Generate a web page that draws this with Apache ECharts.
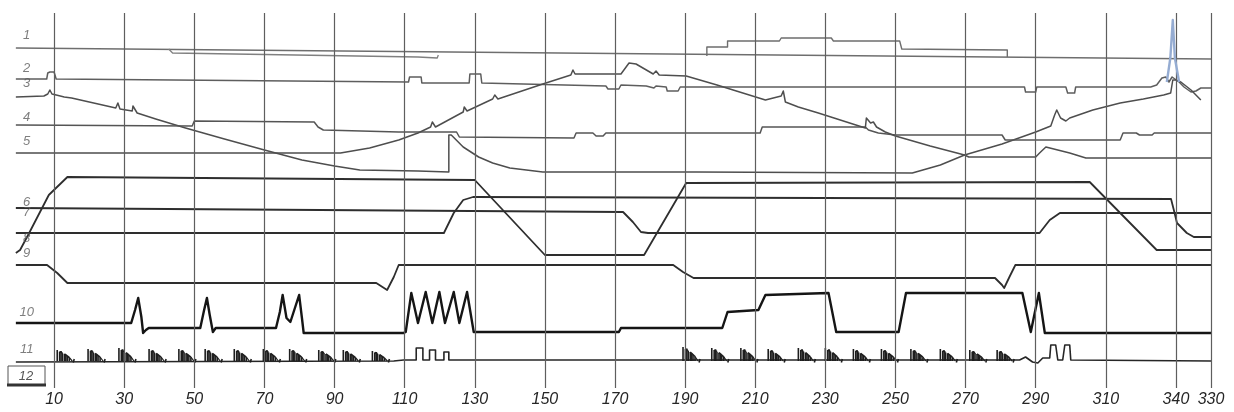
<!DOCTYPE html>
<html><head><meta charset="utf-8">
<script src="https://cdn.jsdelivr.net/npm/echarts/dist/echarts.min.js"></script>
<style>html,body{margin:0;padding:0;background:#fff}#c{width:1234px;height:412px}</style>
</head><body><div id="c"></div>
<script>
// ---- axis ticks ----
const tickValues = [10,30,50,70,90,110,130,150,170,190,210,230,250,270,290,310,330,340];
const tickLabels = ['10','30','50','70','90','110','130','150','170','190','210','230','250','270','290','310','340','330'];

// ---- channel labels ----
const channelNames  = ['1','2','3','4','5','6','7','8','9','10','11'];
const channelLevels = [353,320,305,271,247,186,176,150,135,76,39];

// ---- traces: [time, level] ----
const trace1Base = [[-0.9,340],[340,329]];
const trace1Offset = [[42.7,339],[43.8,335],[113.8,331],[119.3,330],[119.6,333]];
const trace1Steps = [[196.2,332],[196.2,341],[202.1,341],[202.1,347],[216.9,347],[217.4,350],[231.7,350],[232.3,347],[251.2,347],[251.8,339],[281.9,338],[281.9,331]];
const trace2 = [[-0.9,309],[7.9,309],[8.2,315],[8.8,316],[10,316],[10.6,309],[111.1,306],[111.4,311],[114.7,311],[114.9,305],[128.4,305],[128.6,314],[131.7,314],[132,305],[167.4,302],[168,299],[171.1,299],[171.7,303],[178.9,302],[179.4,300],[181.1,300],[181.7,302],[184.6,301],[184.9,297],[188,297],[188.6,301],[286.8,301],[287.1,296],[290,296],[290.3,301],[298.6,301],[299.1,295],[301.1,295],[301.4,301],[322.8,301],[324.5,303],[326,310],[327.1,311],[328,306],[328.9,311],[330.9,306],[332.3,301],[334.3,296],[335.7,297],[337.1,300],[340,300]];
const trace2Spike = [[327.4,306],[328.4,330],[329.1,368],[329.7,330],[330.9,306]];
const trace3 = [[-0.9,291],[7.1,292],[8.2,294],[8.8,298],[9.4,294],[10.6,293],[12.9,291],[15,290],[27.6,280],[28.2,285],[28.8,279],[32.3,277],[32.5,282],[33.7,275],[39,269],[47.5,260],[58.6,249],[70,238],[80.7,228],[90,222],[97.2,218],[113.8,217],[122.6,216],[122.6,253],[123.3,253],[126.7,241],[131.1,231],[135.1,225],[140,220],[149.4,216],[193.2,216],[254.8,215],[262.8,223],[269.7,233],[280.4,244],[290,256],[294.3,262],[295.4,273],[296,278],[297.1,270],[298.6,267],[299.7,270],[306.3,278],[314.1,285],[320.7,289],[326.5,293],[328.5,295],[329.1,308],[330,308],[331.4,306],[334.3,298],[337.1,288]];
const trace4 = [[-0.9,263],[49.4,262],[50,267],[84.2,266],[85.3,261],[86.8,258],[108.3,256],[124.8,256],[125.6,251],[158.3,250],[158.9,255],[163.7,255],[164.6,252],[166.6,252],[167.4,255],[211.4,255],[212,261],[241.4,261],[242.3,258],[245.1,255],[250,253],[280.4,253],[281.3,248],[314.1,248],[314.9,255],[318.7,255],[319.6,253],[323.2,253],[323.8,255],[340,255]];
const trace5 = [[-0.9,235],[91.7,235],[100,240],[108.3,248],[113.8,255],[117.4,261],[117.9,266],[118.8,261],[126.7,276],[127,281],[127.8,277],[135.1,289],[135.7,293],[136.6,289],[149.4,304],[157.4,313],[158,318],[158.6,314],[171.7,314],[174,325],[176,324],[180.9,314],[181.7,317],[182.6,313],[190.3,312],[199.1,303],[212.9,288],[217.4,292],[218,297],[218.6,286],[222.3,281],[228,275],[241.4,260],[241.7,270],[242.9,265],[243.7,266],[244.6,261],[247.1,256],[250,252],[259.9,242],[269.7,233],[270.9,231],[290,231],[291.1,235],[292.9,241],[299.7,235],[304.3,230],[340,230]];
const trace6 = [[-0.9,135],[0.3,138],[2.6,153],[8.5,193],[13.8,211],[130,208],[150,133],[178.3,133],[190.3,205],[305.4,206],[324.5,138],[340,138]];
const trace7 = [[-0.9,180],[172.3,176],[175.1,166],[177.4,156],[179.4,155],[291.1,155],[294,168],[296.9,175],[340,175]];
const trace8 = [[-0.9,155],[121.2,155],[124,175],[126.7,188],[129.5,191],[328.6,189],[329.4,178],[330.3,165],[333.1,155],[335.1,151],[340,151]];
const trace9 = [[-0.9,123],[8,123],[10.9,115],[13.8,105],[101.9,105],[105,98],[106.9,111],[108.3,123],[186.6,123],[189.4,116],[192.4,110],[278.4,110],[280.4,103],[281,100],[282.5,111],[284.2,123],[340,123]];
const trace10 = [[-0.9,65],[32,65],[33.1,78],[34,90],[34.9,71],[35.4,55],[36.2,58],[37,60],[51.7,60],[52.8,78],[53.6,90],[54.4,73],[55.3,56],[56.1,60],[73.3,60],[74.4,76],[75.2,93],[76.3,70],[77.4,66],[79.9,93],[80.7,70],[81.2,55],[109.7,55],[110.3,56],[111.9,95],[113.8,65],[116,96],[117.9,65],[119.9,96],[121.5,65],[124,96],[125.6,65],[127.8,96],[129.7,56],[171.1,56],[171.7,60],[200.6,60],[202.1,76],[210.9,78],[212.9,93],[230.9,95],[233.1,56],[250.9,56],[253,95],[286.2,95],[288.6,56],[290.9,95],[292.6,55],[340,55]];
const trace11 = [[-0.9,26],[106.9,27],[109.7,28],[113.3,28],[113.3,40],[115.2,40],[115.2,28],[117.1,28],[117.1,38],[118.8,38],[118.8,28],[121.2,28],[121.2,36],[122.6,36],[122.6,28],[187.4,28],[285.4,28],[287.1,31],[289.1,26],[290.6,25],[292,30],[294,30],[294.3,43],[295.7,43],[296.3,28],[297.7,28],[298.3,43],[299.7,43],[300,28],[340,27]];
// bursts on channel 11: start time, base level, height
const burstTimes   = [10.9,19.7,28.5,37.1,45.6,53.1,61.4,69.7,77.2,85.5,92.5,100.8,189.4,197.6,205.9,213.7,222.3,230,238,246,254.4,262.8,271.2,279];
const burstHeights = [11,12,13,12,12,12,12,12,12,11,11,10,14,13,13,12,13,13,12,12,12,12,11,11];
const burstBase = 27;

const chart = echarts.init(document.getElementById('c'), null, {renderer:'canvas'});

function ln(data, color, width, z) {
  return {type:'line', data, symbol:'none', showSymbol:false, silent:true, animation:false,
    lineStyle:{color, width, join:'round'}, z: z || 3, clip:false};
}

const gridLines = tickValues.map(v => [{coord:[v,0]},{coord:[v,375]}]);

const option = {
  backgroundColor:'#ffffff',
  animation:false,
  grid:{left:12, right:23, top:13, bottom:24, containLabel:false},
  xAxis:{type:'value', min:-2, max:340, interval:2,
    axisLine:{show:false}, axisTick:{show:false}, splitLine:{show:false},
    axisLabel:{show:true, showMinLabel:true, showMaxLabel:true, margin:4,
      color:'#262626', fontStyle:'italic', fontSize:16, fontFamily:'Liberation Sans',
      formatter: v => { const i = tickValues.indexOf(Math.round(v*10)/10); return i>=0 ? tickLabels[i] : ''; }}},
  yAxis:{type:'value', min:0, max:375, show:false},
  series:[
    {type:'line', data:[[-2,0]], symbol:'none', silent:true, lineStyle:{width:0}, z:1,
      markLine:{silent:true, animation:false, symbol:['none','none'], label:{show:false},
        emphasis:{disabled:true}, lineStyle:{color:'#5e5e5e', width:1.2, type:'solid'}, data:gridLines}},
    ln(trace1Base,'#6e6e6e',1.4),
    ln(trace1Offset,'#808080',1.3),
    ln(trace1Steps,'#6e6e6e',1.4),
    ln(trace2,'#5e5e5e',1.5),
    ln(trace3,'#4e4e4e',1.5),
    ln(trace2Spike,'#95acd2',2.4,5),
    ln(trace4,'#555',1.5),
    ln(trace5,'#4e4e4e',1.5),
    ln(trace6,'#2e2e2e',1.8),
    ln(trace7,'#2e2e2e',1.8),
    ln(trace8,'#2e2e2e',1.8),
    ln(trace9,'#2e2e2e',1.8),
    ln(trace10,'#151515',2.4),
    ln(trace11,'#262626',1.6),
    {type:'custom', silent:true, animation:false, z:4, clip:false,
      data: burstTimes.map((t,i)=>[t, burstBase, burstHeights[i]]),
      encode:{x:0, y:1},
      renderItem:(params, api) => {
        const x = api.value(0), b = api.value(1), h = api.value(2);
        const p0 = api.coord([x,b]), p1 = api.coord([x,b+h]);
        const H = p0[1]-p1[1];
        const offs = [0,2.4,3.8,5.2,7.2,8.6,10,12];
        const fr   = [1,0.85,0.9,0.72,0.64,0.56,0.44,0.32];
        const st = {stroke:'#1e1e1e', lineWidth:1.6};
        const children = offs.map((o,i)=>({type:'line', shape:{x1:p0[0]+o, y1:p0[1], x2:p0[0]+o, y2:p0[1]-H*fr[i]}, style:st}));
        children.push({type:'line', shape:{x1:p0[0]+2.4, y1:p0[1]-H*0.85, x2:p0[0]+5.2, y2:p0[1]-H*0.72}, style:st});
        children.push({type:'line', shape:{x1:p0[0]+7.2, y1:p0[1]-H*0.64, x2:p0[0]+12, y2:p0[1]-H*0.32}, style:st});
        children.push({type:'line', shape:{x1:p0[0]+12, y1:p0[1]-H*0.32, x2:p0[0]+15, y2:p0[1]}, style:{stroke:'#1e1e1e', lineWidth:1.2}});
        children.push({type:'line', shape:{x1:p0[0]+16, y1:p0[1]+1.5, x2:p0[0]+17, y2:p0[1]-2}, style:st});
        return {type:'group', children};
      }},
    {type:'scatter', silent:true, animation:false, symbolSize:0, z:6,
      data: channelNames.map((n,i)=>({value:[2.2, channelLevels[i]], name:n})),
      label:{show:true, position:'inside', formatter: p => p.name, color:'#5e5e5e',
        fontStyle:'italic', fontSize:13, fontFamily:'Liberation Sans'}}
  ],
  graphic:[
    {type:'rect', shape:{x:8, y:366, width:37, height:19}, style:{fill:'none', stroke:'#555', lineWidth:1}, silent:true},
    {type:'line', shape:{x1:7, y1:385, x2:46, y2:385}, style:{stroke:'#333', lineWidth:3}, silent:true},
    {type:'text', x:26, y:376, style:{text:'12', fill:'#555', font:'italic 13px "Liberation Sans"', textAlign:'center', textVerticalAlign:'middle'}, silent:true}
  ]
};
chart.setOption(option);
</script>
</body></html>
